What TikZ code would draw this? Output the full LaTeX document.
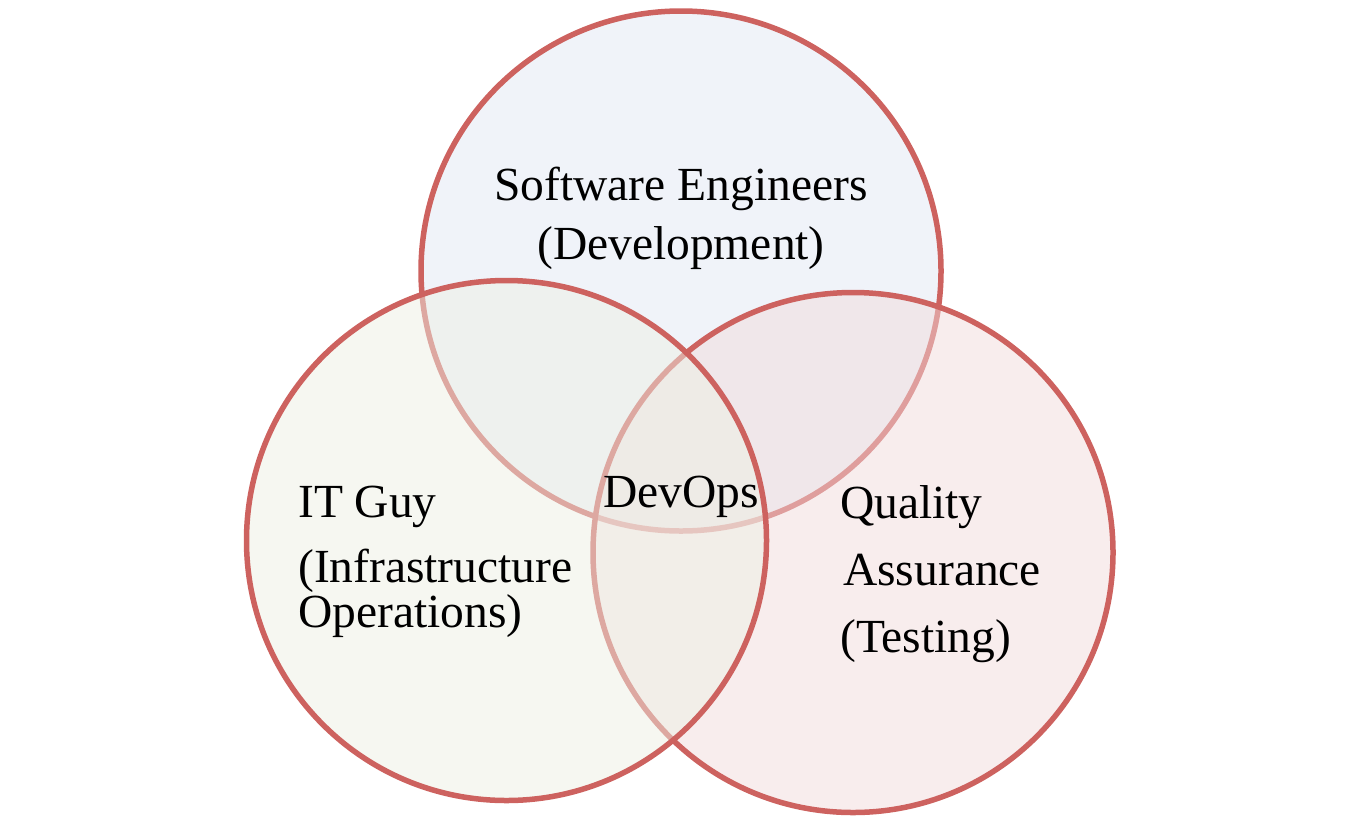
\documentclass[tikz,border=0pt]{standalone}
\usepackage{fontspec}
\setmainfont{Liberation Serif}
\definecolor{ringred}{RGB}{205,98,95}
\definecolor{devfill}{RGB}{225,231,243}
\definecolor{opsfill}{RGB}{237,239,227}
\definecolor{qafill}{RGB}{241,219,219}
\begin{document}
\begin{tikzpicture}[x=1pt,y=-1pt,
  ring/.style={circle, minimum size=520pt, inner sep=0pt, draw=ringred,
    line width=5.5pt, fill opacity=0.5},
  label/.style={font=\fontsize{47.5}{52}\selectfont, inner sep=0pt}]
  \useasboundingbox (0,0) rectangle (1348,828);
  % three overlapping sets: development first, then testing, operations on top
  \node[ring, fill=devfill] (dev) at (681,271) {};
  \node[ring, fill=qafill]  (qa)  at (853,552.5) {};
  \node[ring, fill=opsfill] (ops) at (506.5,540.5) {};
  % set labels
  \node[label, anchor=base] (devA) at (681,200) {Software Engineers};
  \node[label, anchor=base] (devB) at (681,259) {(Development)};
  \node[label, anchor=base west] (opsA) at (298,517) {IT Guy};
  \node[label, anchor=base west] (opsB) at (298,582) {(Infrastructure};
  \node[label, anchor=base west] (opsC) at (298,627) {Operations)};
  \node[label, anchor=base west] (qaA) at (840,518) {Quality};
  \node[label, anchor=base west] (qaB) at (843,585) {Assurance};
  \node[label, anchor=base west] (qaC) at (840,652) {(Testing)};
  \node[label, anchor=base] (core) at (681,507) {DevOps};
\end{tikzpicture}
\end{document}
